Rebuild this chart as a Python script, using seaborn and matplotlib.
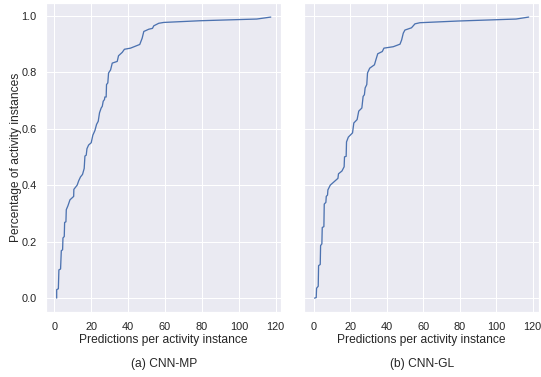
import numpy as np
import pandas as pd
import matplotlib
matplotlib.use("Agg")
import matplotlib.pyplot as plt
import seaborn as sns

# Curve breakpoints: (predictions per instance, cumulative fraction)
mp_x = [1.3, 1.3, 2.2, 2.5, 3.4, 3.8, 4.5, 4.7, 5.4, 5.6, 6.3, 6.5, 7.4, 8.5, 10.5, 10.6, 12.4,
        13.2, 14.2, 15.3, 16.2, 16.6, 17.3, 17.7, 18.6, 20.0, 20.9, 22.0, 22.9, 23.8, 24.5, 25.4,
        26.0, 26.5, 27.2, 27.4, 28.1, 28.3, 29.0, 29.4, 30.5, 31.4, 34.1, 34.8, 36.8, 38.0, 41.3,
        46.3, 47.6, 48.5, 51.2, 53.2, 53.9, 56.6, 59.3, 79.0, 109.7, 117.3]
mp_y = [0.0, 0.030, 0.033, 0.100, 0.103, 0.168, 0.171, 0.213, 0.218, 0.268, 0.270, 0.313, 0.327,
        0.348, 0.360, 0.385, 0.400, 0.415, 0.429, 0.438, 0.459, 0.503, 0.506, 0.529, 0.542, 0.550,
        0.577, 0.593, 0.615, 0.626, 0.656, 0.673, 0.679, 0.697, 0.703, 0.712, 0.712, 0.756, 0.762,
        0.797, 0.808, 0.832, 0.838, 0.858, 0.870, 0.881, 0.885, 0.898, 0.920, 0.944, 0.952, 0.955,
        0.964, 0.973, 0.976, 0.982, 0.988, 0.995]

gl_x = [0.5, 1.4, 1.6, 2.5, 2.7, 3.6, 3.8, 4.5, 4.7, 5.6, 5.8, 6.7, 6.9, 7.6, 7.8, 9.1, 13.3,
        13.6, 15.5, 16.7, 16.9, 17.8, 18.0, 19.0, 21.3, 22.0, 23.8, 24.7, 26.4, 27.1, 27.8, 28.2,
        29.1, 29.5, 30.7, 33.3, 34.2, 35.1, 37.6, 38.5, 43.6, 47.3, 48.2, 49.1, 50.0, 53.6, 55.5,
        58.2, 79.1, 110.9, 117.8]
gl_y = [0.0, 0.002, 0.035, 0.042, 0.115, 0.119, 0.186, 0.192, 0.250, 0.253, 0.333, 0.339, 0.360,
        0.365, 0.383, 0.400, 0.424, 0.440, 0.450, 0.465, 0.500, 0.502, 0.553, 0.570, 0.585, 0.620,
        0.632, 0.662, 0.673, 0.714, 0.720, 0.744, 0.756, 0.797, 0.814, 0.826, 0.846, 0.865, 0.873,
        0.885, 0.890, 0.899, 0.914, 0.938, 0.949, 0.957, 0.971, 0.975, 0.981, 0.988, 0.995]

panel_titles = ["(a) CNN-MP", "(b) CNN-GL"]
x_label = "Predictions per activity instance"
y_label = "Percentage of activity instances"
x_ticks = [0, 20, 40, 60, 80, 100, 120]
y_ticks = [0.0, 0.2, 0.4, 0.6, 0.8, 1.0]

sns.set_theme(style="darkgrid")
plt.rcParams['font.family'] = ['Liberation Sans', 'DejaVu Sans']

fig, axes = plt.subplots(1, 2, figsize=(541 / 72, 377 / 72), dpi=72, sharey=True)
fig.subplots_adjust(left=0.085, right=0.997, top=0.992, bottom=0.172, wspace=0.095)

series = [(mp_x, mp_y), (gl_x, gl_y)]
for ax, (xs, ys), title in zip(axes, series, panel_titles):
    df = pd.DataFrame({"x": xs, "y": ys})
    sns.lineplot(data=df, x="x", y="y", ax=ax, sort=False, estimator=None,
                 color="#4c72b0", linewidth=1.3)
    ax.set_xticks(x_ticks)
    ax.set_yticks(y_ticks)
    ax.set_xlabel(x_label, labelpad=2)
    ax.set_ylabel("")
    ax.text(0.5, -0.148, title, transform=ax.transAxes, ha="center", va="top", fontsize=12)

axes[0].set_ylabel(y_label, labelpad=-1)
axes[0].set_yticklabels([f"{v:.1f}" for v in y_ticks])

fig.savefig("out.png", dpi=72)
